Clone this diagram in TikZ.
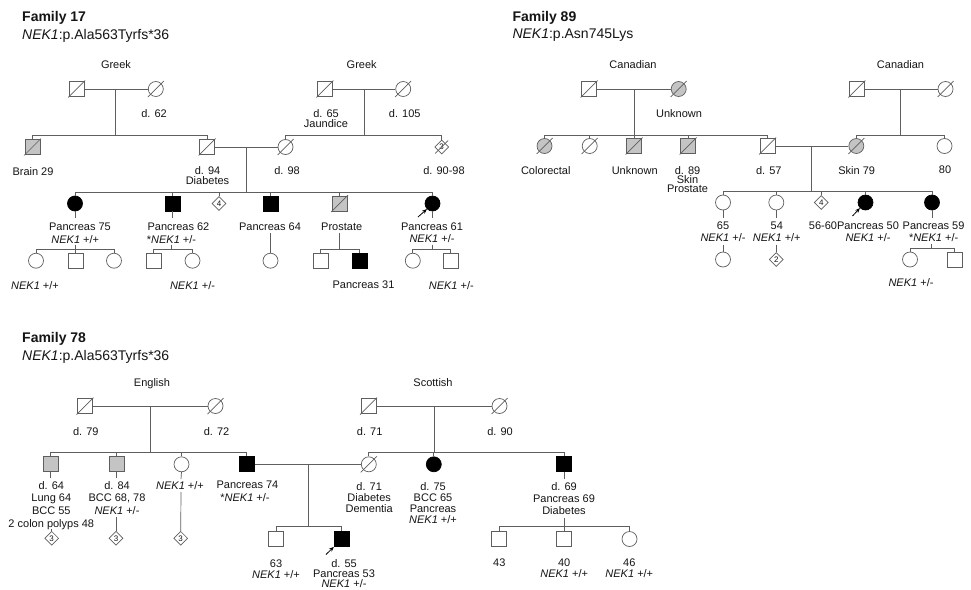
\documentclass[tikz,border=0pt]{standalone}
\usepackage{fontspec}
\setmainfont{Liberation Sans}
\usetikzlibrary{shapes.geometric,arrows.meta}
\definecolor{lc}{HTML}{5E5E5E}
\definecolor{gf}{HTML}{C4C4C4}
\definecolor{tc}{HTML}{151515}
\newcommand{\nekgene}{\textit{NEK1}}
\pgfdeclarelayer{bg}
\pgfsetlayers{bg,main}
\begin{document}
\begin{tikzpicture}[x=1pt,y=-1pt,
  per/.style={draw=lc, line width=0.7pt, fill=white, inner sep=0pt, minimum size=15pt},
  sq/.style={per, rectangle},
  ci/.style={per, circle},
  di/.style={per, diamond, minimum size=14pt, font=\fontsize{8}{8}\selectfont, text=tc},
  aff/.style={fill=black, draw=black},
  unk/.style={fill=gf},
  lab/.style={inner sep=0pt, anchor=north, align=center, text=tc, font=\fontsize{11}{#1}\selectfont},
  lab/.default=12,
  ttl/.style={inner sep=0pt, anchor=north west, text=tc, font=\fontsize{14}{14}\selectfont\bfseries},
  sub/.style={inner sep=0pt, anchor=north west, text=tc, font=\fontsize{14}{14}\selectfont},
  ln/.style={draw=lc, line width=0.7pt},
  proband/.style={draw=black, line width=0.8pt, -{Stealth[length=5pt,width=4pt]}}
]
\useasboundingbox[fill=white] (0,0) rectangle (971,589);

% ================= Family 17 =================
\node[ttl] (t17) at (22,11) {Family 17};
\node[sub] (s17) at (22,29) {\nekgene:p.Ala563Tyrfs*36};
\node[lab] (gk1) at (116,60) {Greek};
\node[lab] (gk2) at (361.7,60) {Greek};

\node[sq] (a1) at (76.7,89) {};
\node[ci] (a2) at (155.8,89) {};
\node[sq,unk] (a3) at (32.5,147) {};
\node[sq] (a4) at (207,147) {};
\node[sq] (a5) at (324.8,89) {};
\node[ci] (a6) at (403.2,89) {};
\node[ci] (a7) at (285.5,147) {};
\node[di] (a8) at (441.7,147) {3};

\node[lab] (la2) at (154,109) {d. 62};
\node[lab] (la3) at (33,167) {Brain 29};
\node[lab=10] (la4) at (207.5,166) {d. 94\\Diabetes};
\node[lab=10] (la5) at (326,109) {d. 65\\Jaundice};
\node[lab] (la6) at (404.7,109) {d. 105};
\node[lab] (la7) at (287,166) {d. 98};
\node[lab] (la8) at (444,166) {d. 90-98};

\node[ci,aff] (b1) at (75,203.5) {};
\node[sq,aff] (b2) at (172.8,203.5) {};
\node[di] (b3) at (219,203.5) {4};
\node[sq,aff] (b4) at (270.5,203.5) {};
\node[sq,unk] (b5) at (339.5,203.5) {};
\node[ci,aff] (b6) at (432.5,203.5) {};

\node[lab] (lb1) at (80,223) {Pancreas 75};
\node[lab] (lb1g) at (75.3,235) {\nekgene{} +/+};
\node[lab] (lb2) at (178.5,223) {Pancreas 62};
\node[lab] (lb2g) at (171.5,235) {*\nekgene{} +/-};
\node[lab] (lb4) at (270,223) {Pancreas 64};
\node[lab] (lb5) at (341.7,223) {Prostate};
\node[lab=12] (lb6) at (432,223) {Pancreas 61\\\nekgene{} +/-};

\node[ci] (c1) at (36,260.7) {};
\node[sq] (c2) at (75.5,260.7) {};
\node[ci] (c3) at (114,260.7) {};
\node[sq] (c4) at (153.5,260.7) {};
\node[ci] (c5) at (192.5,260.7) {};
\node[ci] (c6) at (270.5,260.7) {};
\node[sq] (c7) at (320.7,260.7) {};
\node[sq,aff] (c8) at (359.5,260.7) {};
\node[ci] (c9) at (412.8,260.7) {};
\node[sq] (c10) at (450.8,260.7) {};

\node[lab] (lc1) at (35,281) {\nekgene{} +/+};
\node[lab] (lc5) at (192.5,281) {\nekgene{} +/-};
\node[lab] (lc8) at (363.5,281) {Pancreas 31};
\node[lab] (lc10) at (451.3,281) {\nekgene{} +/-};

% ================= Family 89 =================
\node[ttl] (t89) at (512.3,11) {Family 89};
\node[sub] (s89) at (512.3,29) {\nekgene:p.Asn745Lys};
\node[lab] (cn1) at (633,60) {Canadian};
\node[lab] (cn2) at (900.5,60) {Canadian};

\node[sq] (d1) at (589,89) {};
\node[ci,unk] (d2) at (678.7,89) {};
\node[ci,unk] (d3) at (544.5,146) {};
\node[ci] (d4) at (589.7,146) {};
\node[sq,unk] (d5) at (634.2,146) {};
\node[sq,unk] (d6) at (688,146) {};
\node[sq] (d7) at (767.5,146) {};
\node[sq] (d8) at (856.8,89) {};
\node[ci] (d9) at (945.5,89) {};
\node[ci,unk] (d10) at (856.3,146) {};
\node[ci] (d11) at (944.5,146) {};

\node[lab] (ld2) at (679,109) {Unknown};
\node[lab] (ld3) at (545.8,166) {Colorectal};
\node[lab] (ld5) at (634.7,166) {Unknown};
\node[lab=9] (ld6) at (687.5,166) {d. 89\\Skin\\Prostate};
\node[lab] (ld7) at (768.8,166) {d. 57};
\node[lab] (ld10) at (856.7,166) {Skin 79};
\node[lab] (ld11) at (945,166) {80};

\node[ci] (e1) at (723,202.5) {};
\node[ci] (e2) at (776.3,202.5) {};
\node[di] (e3) at (821.3,202.5) {4};
\node[ci,aff] (e4) at (865.5,202.5) {};
\node[ci,aff] (e5) at (932,202.5) {};

\node[lab=12] (le1) at (723,222) {65\\\nekgene{} +/-};
\node[lab=12] (le2) at (776.8,222) {54\\\nekgene{} +/+};
\node[lab] (le3) at (823,222) {56-60};
\node[lab=12] (le4) at (868,222) {Pancreas 50\\\nekgene{} +/-};
\node[lab=12] (le5) at (933.6,222) {Pancreas 59\\*\nekgene{} +/-};

\node[ci] (f1) at (723,259.5) {};
\node[di] (f2) at (776.3,259.5) {2};
\node[ci] (f3) at (910,259.5) {};
\node[sq] (f4) at (954.8,259.5) {};
\node[lab] (lf3) at (911,278.7) {\nekgene{} +/-};

% ================= Family 78 =================
\node[ttl] (t78) at (22,332) {Family 78};
\node[sub] (s78) at (22,350) {\nekgene:p.Ala563Tyrfs*36};
\node[lab] (en) at (152,378) {English};
\node[lab] (sc) at (433,378) {Scottish};

\node[sq] (g1) at (85,406) {};
\node[ci] (g2) at (215.5,406) {};
\node[sq] (g8) at (368.5,406) {};
\node[ci] (g9) at (499.5,406) {};
\node[lab] (lg1) at (85.8,427) {d. 79};
\node[lab] (lg2) at (216.5,427) {d. 72};
\node[lab] (lg8) at (369.7,427) {d. 71};
\node[lab] (lg9) at (500,427) {d. 90};

\node[sq,unk] (g3) at (50.8,464.3) {};
\node[sq,unk] (g4) at (116.5,464.3) {};
\node[ci] (g5) at (181.5,464.3) {};
\node[sq,aff] (g6) at (246.7,464.3) {};
\node[ci] (g7) at (368.8,464.3) {};
\node[ci,aff] (g10) at (433.8,464.3) {};
\node[sq,aff] (g11) at (564.2,464.3) {};

\node[lab=12.7] (lg3) at (51.3,481) {d. 64\\Lung 64\\BCC 55\\2 colon polyps 48};
\node[lab=12.5] (lg4) at (117,481) {d. 84\\BCC 68, 78\\\nekgene{} +/-};
\node[lab] (lg5) at (180,481) {\nekgene{} +/+};
\node[lab] (lg6) at (247.5,481) {Pancreas 74};
\node[lab] (lg6g) at (245,493) {*\nekgene{} +/-};
\node[lab=11.2] (lg7) at (369.2,482) {d. 71\\Diabetes\\Dementia};
\node[lab=11.1] (lg10) at (433,482) {d. 75\\BCC 65\\Pancreas\\\nekgene{} +/+};
\node[lab=12.3] (lg11) at (564,482) {d. 69\\Pancreas 69\\Diabetes};

\node[di] (h1) at (51.7,538.3) {3};
\node[di] (h2) at (116,538.3) {3};
\node[di] (h3) at (180.7,538.3) {3};
\node[sq] (h4) at (276.3,539) {};
\node[sq,aff] (h5) at (341.7,539) {};
\node[sq] (h6) at (499.2,539) {};
\node[sq] (h7) at (564.2,539) {};
\node[ci] (h8) at (629.5,539) {};

\node[lab=11.7] (lh4) at (276,559.3) {63\\\nekgene{} +/+};
\node[lab=10] (lh5) at (344,559.3) {d. 55\\Pancreas 53\\\nekgene{} +/-};
\node[lab] (lh6) at (499.3,559) {43};
\node[lab=10.3] (lh7) at (564.2,559) {40\\\nekgene{} +/+};
\node[lab=10.3] (lh8) at (629.3,559) {46\\\nekgene{} +/+};

% ================= junction coordinates =================
\coordinate (a12) at (115.7,89);  \coordinate (a12s) at (115.7,135);
\coordinate (a56) at (364,89);    \coordinate (a56s) at (364,135);
\coordinate (a47) at (246.3,147); \coordinate (a47s) at (246.3,192);
\coordinate (b1d) at (75,218);    \coordinate (b1u) at (75,244.5);    \coordinate (b1k) at (75,249);
\coordinate (b2d) at (172.8,218); \coordinate (b2u) at (171.7,244.5); \coordinate (b2k) at (171.7,249);
\coordinate (b4u) at (270.5,233);
\coordinate (b5u) at (339.5,233); \coordinate (b5k) at (339.5,249);
\coordinate (b6d) at (432.5,218); \coordinate (b6u) at (432,244.5);   \coordinate (b6k) at (432,249);
\coordinate (b6a) at (418,217);

\coordinate (d12) at (634,89);    \coordinate (d12s) at (634,135);
\coordinate (d89) at (900.7,89);  \coordinate (d89s) at (900.7,135);
\coordinate (d7x) at (811.7,146); \coordinate (d7s) at (811.7,191.5);
\coordinate (e1d) at (723,218);   \coordinate (e1u) at (723,244.5);
\coordinate (e2d) at (776.3,218); \coordinate (e2u) at (776.3,244.5);
\coordinate (e5d) at (932,218);   \coordinate (e5u) at (931.7,244);   \coordinate (e5k) at (931.7,248);
\coordinate (e4a) at (852.5,216);

\coordinate (g12) at (150.7,406); \coordinate (g12s) at (150.7,452.5);
\coordinate (g89) at (434,406);   \coordinate (g89s) at (434,452.7);
\coordinate (g67) at (308.3,464.3); \coordinate (g67s) at (308.3,526.5);
\coordinate (g3d) at (50.8,478);  \coordinate (g3u) at (51.7,529);
\coordinate (g4d) at (116.5,478); \coordinate (g4u) at (116,517);
\coordinate (g5d) at (181,479);   \coordinate (g5u) at (181,492);
\coordinate (g11d) at (564.2,479); \coordinate (g11u) at (564.3,518); \coordinate (g11k) at (564.3,526.7);
\coordinate (h5a) at (326,554.5);

% ================= connectors =================
\begin{scope}[draw=lc, line width=0.7pt]
% Family 17
\draw (a1) -- (a2);
\draw (a12) -- (a12s);
\draw (a3.north) |- (a12s);
\draw (a4.north) |- (a12s);
\draw (a5) -- (a6);
\draw (a56) -- (a56s);
\draw (a7.north) |- (a56s);
\draw (a8.north) |- (a56s);
\draw (a4) -- (a7);
\draw (a47) -- (a47s);
\draw (b1.north) |- (a47s);
\draw (b6.north) |- (a47s);
\draw (b2.north) -- (b2.north |- a47s);
\draw (b3.north) -- (b3.north |- a47s);
\draw (b4.north) -- (b4.north |- a47s);
\draw (b5.north) -- (b5.north |- a47s);
\draw (b1.south) -- (b1d);
\draw (b1u) -- (b1k);
\draw (c1.north) |- (b1k);
\draw (c3.north) |- (b1k);
\draw (c2.north) -- (c2.north |- b1k);
\draw (b2.south) -- (b2d);
\draw (b2u) -- (b2k);
\draw (c4.north) |- (b2k);
\draw (c5.north) |- (b2k);
\draw (b4u) -- (c6.north);
\draw (b5u) -- (b5k);
\draw (c7.north) |- (b5k);
\draw (c8.north) |- (b5k);
\draw (b6.south) -- (b6d);
\draw (b6u) -- (b6k);
\draw (c9.north) |- (b6k);
\draw (c10.north) |- (b6k);
% Family 89
\draw (d1) -- (d2);
\draw (d12) -- (d12s);
\draw (d3.north) |- (d12s);
\draw (d7.north) |- (d12s);
\draw (d4.north) -- (d4.north |- d12s);
\draw (d5.north) -- (d5.north |- d12s);
\draw (d6.north) -- (d6.north |- d12s);
\draw (d8) -- (d9);
\draw (d89) -- (d89s);
\draw (d10.north) |- (d89s);
\draw (d11.north) |- (d89s);
\draw (d7) -- (d10);
\draw (d7x) -- (d7s);
\draw (e1.north) |- (d7s);
\draw (e5.north) |- (d7s);
\draw (e2.north) -- (e2.north |- d7s);
\draw (e3.north) -- (e3.north |- d7s);
\draw (e4.north) -- (e4.north |- d7s);
\draw (e1.south) -- (e1d);
\draw (e1u) -- (f1.north);
\draw (e2.south) -- (e2d);
\draw (e2u) -- (f2.north);
\draw (e5.south) -- (e5d);
\draw (e5u) -- (e5k);
\draw (f3.north) |- (e5k);
\draw (f4.north) |- (e5k);
% Family 78
\draw (g1) -- (g2);
\draw (g12) -- (g12s);
\draw (g3.north) |- (g12s);
\draw (g6.north) |- (g12s);
\draw (g4.north) -- (g4.north |- g12s);
\draw (g5.north) -- (g5.north |- g12s);
\draw (g8) -- (g9);
\draw (g89) -- (g89s);
\draw (g7.north) |- (g89s);
\draw (g11.north) |- (g89s);
\draw (g10.north) -- (g10.north |- g89s);
\draw (g6) -- (g7);
\draw (g67) -- (g67s);
\draw (h4.north) |- (g67s);
\draw (h5.north) |- (g67s);
\draw (g3.south) -- (g3d);
\draw (g3u) -- (h1.north);
\draw (g4.south) -- (g4d);
\draw (g4u) -- (h2.north);
\draw (g5.south) -- (g5d);
\draw (g5u) -- (h3.north);
\draw (g11.south) -- (g11d);
\draw (g11u) -- (g11k);
\draw (h6.north) |- (g11k);
\draw (h8.north) |- (g11k);
\draw (h7.north) -- (h7.north |- g11k);
\end{scope}

% ================= deceased slashes (visible) =================
\foreach \n in {a1,a3,a4,a5,b5,d1,d5,d6,d7,d8,g1,g8}
  \draw[draw=lc, line width=0.7pt] ([shift={(-8.5,8.5)}]\n.center) -- ([shift={(8.5,-8.5)}]\n.center);
\foreach \n in {a2,a6,a7,d2,d3,d4,d9,d10,g2,g7,g9}
  \draw[draw=lc, line width=0.7pt] ([shift={(-8,8)}]\n.center) -- ([shift={(8,-8)}]\n.center);
\draw[draw=lc, line width=0.7pt] ([shift={(-6.5,6.5)}]a8.center) -- ([shift={(6.5,-6.5)}]a8.center);

% ================= deceased slashes (behind filled symbols) =================
\begin{pgfonlayer}{bg}
\foreach \n in {b2,c8,g3,g4,g6,g11,h5}
  \draw[draw=lc, line width=0.7pt] ([shift={(-9.5,9.5)}]\n.center) -- ([shift={(9.5,-9.5)}]\n.center);
\foreach \n in {b1,b6,e4,e5,g10}
  \draw[draw=lc, line width=0.7pt] ([shift={(-8.5,8.5)}]\n.center) -- ([shift={(8.5,-8.5)}]\n.center);
\end{pgfonlayer}

% ================= proband arrows =================
\draw[proband] (b6a) -- (b6.south west);
\draw[proband] (e4a) -- (e4.south west);
\draw[proband] (h5a) -- (h5.south west);
\end{tikzpicture}
\end{document}
